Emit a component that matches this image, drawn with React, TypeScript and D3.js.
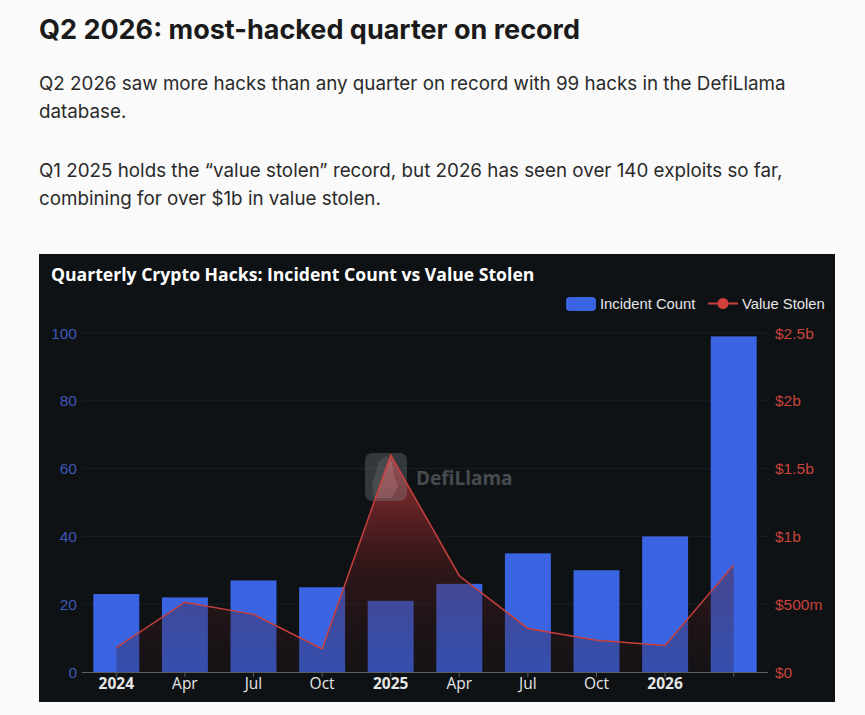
import React, { useRef, useEffect } from "react";
import * as d3 from "d3";

// quarters shown on the chart
const quarters = ["Q1 2024", "Q2 2024", "Q3 2024", "Q4 2024", "Q1 2025", "Q2 2025", "Q3 2025", "Q4 2025", "Q1 2026", "Q2 2026"];
const tickLabels = ["2024", "Apr", "Jul", "Oct", "2025", "Apr", "Jul", "Oct", "2026", ""];
const yearTicks = ["2024", "2025", "2026"];
// number of hacks per quarter
const incidentCount = [23, 22, 27, 25, 21, 26, 35, 30, 40, 99];
// value stolen per quarter, in $m
const valueStolen = [180, 515, 425, 170, 1600, 710, 320, 235, 195, 790];
const countTicks = [0, 20, 40, 60, 80, 100];
const valueTicks = [0, 500, 1000, 1500, 2000, 2500];

const headline = "Q2 2026: most-hacked quarter on record";
const paragraphs = [
    ["Q2 2026 saw more hacks than any quarter on record with 99 hacks in the DefiLlama", "database."],
    ["Q1 2025 holds the \u201cvalue stolen\u201d record, but 2026 has seen over 140 exploits so far,", "combining for over $1b in value stolen."],
];
const chartTitle = "Quarterly Crypto Hacks: Incident Count vs Value Stolen";

const fmtValue = (v: number) => (v === 0 ? "$0" : v >= 1000 ? `$${v / 1000}b` : `$${v}m`);

export default function App() {
    const svgRef = useRef<SVGSVGElement>(null);

    useEffect(() => {
        document.body.style.margin = "0";
        const width = 865,
            height = 715;
        const svg = d3.select(svgRef.current).attr("width", width).attr("height", height);
        svg.selectAll("*").remove();

        svg.append("rect").attr("width", width).attr("height", height).attr("fill", "#fafafa");

        // article text
        svg.append("text")
            .attr("x", 39)
            .attr("y", 39)
            .text(headline)
            .style("font-family", "Inter, sans-serif")
            .style("font-weight", 700)
            .style("font-size", "27px")
            .style("fill", "#1a1a1a");

        const paraTop = [90, 177];
        paragraphs.forEach((lines, pi) => {
            lines.forEach((line, li) => {
                svg.append("text")
                    .attr("x", 39)
                    .attr("y", paraTop[pi] + li * 27.5)
                    .text(line)
                    .style("font-family", "Inter, sans-serif")
                    .style("font-size", "18.8px")
                    .style("fill", "#2a2a2a");
            });
        });

        // chart card
        const card = { x: 39, y: 254, w: 796, h: 448 };
        svg.append("rect")
            .attr("x", card.x)
            .attr("y", card.y)
            .attr("width", card.w)
            .attr("height", card.h)
            .attr("fill", "#0e1215");

        svg.append("text")
            .attr("x", 51)
            .attr("y", 281)
            .text(chartTitle)
            .style("font-family", "'Open Sans', sans-serif")
            .style("font-weight", 700)
            .style("font-size", "17.6px")
            .style("fill", "#ffffff");

        const plot = { left: 82, right: 768, top: 333, bottom: 672 };

        const x = d3.scaleBand().domain(quarters).range([plot.left, plot.right]).paddingInner(0.33).paddingOuter(0.165);
        const yCount = d3.scaleLinear().domain([0, 100]).range([plot.bottom, plot.top]);
        const yValue = d3.scaleLinear().domain([0, 2500]).range([plot.bottom, plot.top]);

        // grid
        svg.append("g")
            .selectAll("line")
            .data(countTicks.slice(1))
            .enter()
            .append("line")
            .attr("x1", plot.left)
            .attr("x2", plot.right)
            .attr("y1", (d) => yCount(d))
            .attr("y2", (d) => yCount(d))
            .attr("stroke", "#1a1f24")
            .attr("stroke-width", 1);

        svg.append("line")
            .attr("x1", plot.right)
            .attr("x2", plot.right)
            .attr("y1", plot.top)
            .attr("y2", plot.bottom)
            .attr("stroke", "#1e2328")
            .attr("stroke-dasharray", "2,3");

        // left axis labels
        svg.append("g")
            .selectAll("text")
            .data(countTicks)
            .enter()
            .append("text")
            .attr("x", 77)
            .attr("y", (d) => yCount(d) + 5.5)
            .attr("text-anchor", "end")
            .text((d) => d)
            .style("font-family", "'Liberation Sans', Arial, sans-serif")
            .style("font-size", "15.5px")
            .style("fill", "#3f58b8");

        // right axis labels
        svg.append("g")
            .selectAll("text")
            .data(valueTicks)
            .enter()
            .append("text")
            .attr("x", 775)
            .attr("y", (d) => yValue(d) + 5.5)
            .text((d) => fmtValue(d))
            .style("font-family", "'Liberation Sans', Arial, sans-serif")
            .style("font-size", "15.5px")
            .style("fill", "#c9443c");

        // bars
        svg.append("g")
            .selectAll("rect")
            .data(quarters)
            .enter()
            .append("rect")
            .attr("x", (d) => x(d)!)
            .attr("y", (d, i) => yCount(incidentCount[i]))
            .attr("width", x.bandwidth())
            .attr("height", (d, i) => plot.bottom - yCount(incidentCount[i]))
            .attr("fill", "#3a64e2");

        // area gradient
        const defs = svg.append("defs");
        const grad = defs
            .append("linearGradient")
            .attr("id", "valueArea")
            .attr("gradientUnits", "userSpaceOnUse")
            .attr("x1", 0)
            .attr("x2", 0)
            .attr("y1", yValue(d3.max(valueStolen)!))
            .attr("y2", plot.bottom);
        grad.append("stop").attr("offset", 0).attr("stop-color", "#cc3c3c").attr("stop-opacity", 0.75);
        grad.append("stop").attr("offset", 0.55).attr("stop-color", "#5a1a1c").attr("stop-opacity", 0.4);
        grad.append("stop").attr("offset", 1).attr("stop-color", "#2a1418").attr("stop-opacity", 0.26);

        const cx = (i: number) => x(quarters[i])! + x.bandwidth() / 2;

        const area = d3
            .area<number>()
            .x((d, i) => cx(i))
            .y0(plot.bottom)
            .y1((d) => yValue(d));
        const line = d3
            .line<number>()
            .x((d, i) => cx(i))
            .y((d) => yValue(d));

        svg.append("path").datum(valueStolen).attr("d", area).attr("fill", "url(#valueArea)");

        // watermark
        const wm = svg.append("g").attr("opacity", 0.3);
        wm.append("rect").attr("x", 365).attr("y", 453).attr("width", 42).attr("height", 48).attr("rx", 7).attr("fill", "#8a9099");
        wm.append("path")
            .attr("d", "M378,462 L386,456 L392,462 L394,476 L398,486 L392,498 L374,498 L372,484 L376,472 Z")
            .attr("fill", "#c9ced4");
        wm.append("text")
            .attr("x", 416)
            .attr("y", 485)
            .text("DefiLlama")
            .style("font-family", "'Open Sans', sans-serif")
            .style("font-weight", 700)
            .style("font-size", "19px")
            .style("fill", "#c9ced4");

        svg.append("path")
            .datum(valueStolen)
            .attr("d", line)
            .attr("fill", "none")
            .attr("stroke", "#c8403e")
            .attr("stroke-width", 1.5);

        // x axis
        svg.append("line")
            .attr("x1", plot.left)
            .attr("x2", plot.right)
            .attr("y1", plot.bottom + 0.5)
            .attr("y2", plot.bottom + 0.5)
            .attr("stroke", "#5a5f66");

        const xt = svg.append("g").selectAll("g").data(quarters).enter().append("g");
        xt.append("line")
            .attr("x1", (d, i) => cx(i))
            .attr("x2", (d, i) => cx(i))
            .attr("y1", plot.bottom)
            .attr("y2", plot.bottom + 5)
            .attr("stroke", "#5a5f66");
        xt.append("text")
            .attr("x", (d, i) => cx(i))
            .attr("y", 689)
            .attr("text-anchor", "middle")
            .text((d, i) => tickLabels[i])
            .style("font-family", "'Open Sans', sans-serif")
            .style("font-size", "15.5px")
            .style("font-weight", (d, i) => (yearTicks.includes(tickLabels[i]) ? 700 : 400))
            .style("fill", "#e6e6e6");

        // legend
        svg.append("rect").attr("x", 566).attr("y", 297).attr("width", 30).attr("height", 14).attr("rx", 4).attr("fill", "#3a64e2");
        svg.append("text")
            .attr("x", 600)
            .attr("y", 309)
            .text("Incident Count")
            .style("font-family", "'Liberation Sans', Arial, sans-serif")
            .style("font-size", "14.8px")
            .style("fill", "#e6e6e6");
        svg.append("line").attr("x1", 708).attr("x2", 738).attr("y1", 303.5).attr("y2", 303.5).attr("stroke", "#c8403e").attr("stroke-width", 2);
        svg.append("circle").attr("cx", 723).attr("cy", 303.5).attr("r", 5.5).attr("fill", "#d0403a");
        svg.append("text")
            .attr("x", 742)
            .attr("y", 309)
            .text("Value Stolen")
            .style("font-family", "'Liberation Sans', Arial, sans-serif")
            .style("font-size", "14.8px")
            .style("fill", "#e6e6e6");
    }, []);

    return <svg ref={svgRef} style={{ display: "block" }}></svg>;
}
